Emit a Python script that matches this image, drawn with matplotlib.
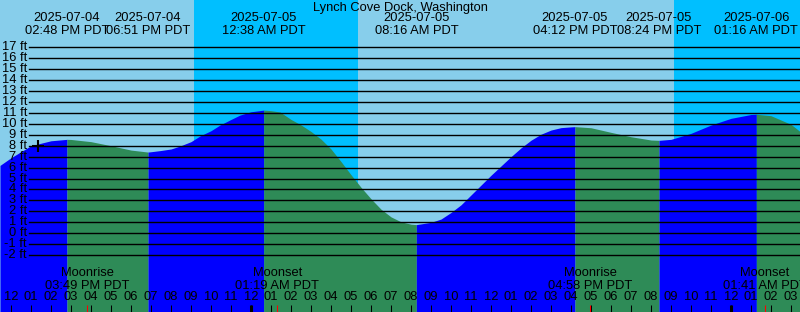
import matplotlib.pyplot as plt
import pandas as pd

plt.rcParams['font.family'] = ['Liberation Sans', 'DejaVu Sans']
plt.rcParams['font.size'] = 9.3

title = "Lynch Cove Dock, Washington"
start = pd.Timestamp("2025-07-04 12:00")

# tide readings (hours after start -> feet)
reading_hours = [-0.55, 0, 1, 2, 3, 4, 5, 6, 7, 7.45, 8, 8.45, 9, 9.45, 10, 10.45, 11, 11.45, 12,
                 13, 13.45, 14, 14.5, 15, 15.5, 16, 16.5, 17, 17.5, 18, 18.5, 19, 19.5, 20,
                 21, 21.5, 22, 22.5, 23, 23.5, 24, 24.5, 25, 25.5, 26, 26.5, 27, 27.5, 28,
                 29, 30, 31, 32, 33, 34, 35, 36, 37, 38, 39, 39.45]
reading_ft = [6.2, 6.9, 8.0, 8.45, 8.57, 8.37, 8.0, 7.6, 7.45, 7.55, 7.7, 7.97, 8.37, 8.89, 9.37,
              9.89, 10.4, 10.8, 11.1,
              11.2, 11.08, 10.4, 9.9, 9.3, 8.6, 7.7, 6.55, 5.35, 4.2, 3.15, 2.2, 1.5, 1.05, 0.83,
              1.0, 1.3, 1.9, 2.6, 3.5, 4.4, 5.3, 6.15, 7.0, 7.8, 8.5, 9.05, 9.43, 9.65, 9.72,
              9.64, 9.22, 8.82, 8.52, 8.58, 9.13, 9.89, 10.5, 10.85, 10.74, 9.95, 9.3]

# high / low tides
extreme_times = ["2025-07-04 14:48", "2025-07-04 18:51", "2025-07-05 00:38", "2025-07-05 08:16",
                 "2025-07-05 16:12", "2025-07-05 20:24", "2025-07-06 01:16"]
extreme_ft = [8.58, 7.42, 11.25, 0.79, 9.74, 8.49, 10.87]

# moon events
moon_events = ["Moonrise", "Moonset", "Moonrise", "Moonset"]
moon_times = ["2025-07-04 15:49", "2025-07-05 01:19", "2025-07-05 16:58", "2025-07-06 01:41"]

# night (sunset -> sunrise)
night_start = ["2025-07-04 21:09", "2025-07-05 21:09"]
night_end = ["2025-07-05 05:21", "2025-07-06 05:21"]

mark_time = "2025-07-04 13:20"
mark_ft = 8.0

hour_labels = ["12", "01", "02", "03", "04", "05", "06", "07", "08", "09", "10", "11",
               "12", "01", "02", "03", "04", "05", "06", "07", "08", "09", "10", "11",
               "12", "01", "02", "03", "04", "05", "06", "07", "08", "09", "10", "11",
               "12", "01", "02", "03"]
midnights = ["2025-07-05 00:00", "2025-07-06 00:00"]
ft_levels = list(range(-2, 18))

DAY = "#87CEEB"
NIGHT = "#00BFFF"
RISING = "#0000FF"
FALLING = "#2E8B57"


def to_hours(times):
    return list((pd.to_datetime(times) - start) / pd.Timedelta(hours=1))


ext_h = to_hours(extreme_times)
pts = sorted(zip(reading_hours + ext_h, reading_ft + extreme_ft))
t = [p[0] for p in pts]
h = [p[1] for p in pts]

W, H = 800, 312
fig = plt.figure(figsize=(8, 3.12), dpi=100)
ax = fig.add_axes([0, 0, 1, 1])
x0, x1 = -0.55, 39.45
ax.set_xlim(x0, x1)
ax.set_ylim(-7.19, 21.31)
ax.set_facecolor(DAY)
for s in ax.spines.values():
    s.set_visible(False)
ax.set_xticks([])
ax.set_yticks([])

for a, b in zip(to_hours(night_start), to_hours(night_end)):
    ax.axvspan(a, b, color=NIGHT, lw=0, zorder=0)

# tide fill: blue while rising, green while falling
bounds = [x0] + ext_h + [x1]
for i in range(len(bounds) - 1):
    seg = [(tt, hh) for tt, hh in zip(t, h) if bounds[i] <= tt <= bounds[i + 1]]
    color = RISING if i % 2 == 0 else FALLING
    ax.fill_between([p[0] for p in seg], [p[1] for p in seg], -8, color=color, lw=0, zorder=1)

ytr = ax.get_yaxis_transform()
for v in ft_levels:
    ax.axhline(v, xmin=29 / W, color="black", lw=1.0, zorder=2)
    ax.text(27 / W, v, f"{v} ft", transform=ytr, ha="right", va="center", zorder=3)

ax.plot(to_hours([mark_time]), [mark_ft], marker="+", ms=9, mew=1.5, color="black", zorder=3)

xtr = ax.get_xaxis_transform()
fig.text(0.5, 1 - 8 / H, title, ha="center", va="center")
for tm, xh in zip(pd.to_datetime(extreme_times), ext_h):
    ax.text(xh, 1 - 18 / H, tm.strftime("%Y-%m-%d"), transform=xtr, ha="center", va="center")
    ax.text(xh, 1 - 31 / H, tm.strftime("%I:%M %p") + " PDT", transform=xtr, ha="center", va="center")

moon_h = to_hours(moon_times)
for ev, tm, xh in zip(moon_events, pd.to_datetime(moon_times), moon_h):
    ax.text(xh, 1 - 273 / H, ev, transform=xtr, ha="center", va="center")
    ax.text(xh, 1 - 286 / H, tm.strftime("%I:%M %p") + " PDT", transform=xtr, ha="center", va="center")

hours = list(range(len(hour_labels)))
for xh, lab in zip(hours, hour_labels):
    ax.text(xh, 1 - 297.5 / H, lab, transform=xtr, ha="center", va="center")
tick_top = 7 / H
ax.vlines(hours, 0, tick_top, transform=xtr, color="black", lw=0.75, zorder=3)
ax.vlines(to_hours(midnights), 0, tick_top, transform=xtr, color="black", lw=2.2, zorder=3)
ax.vlines(moon_h, 0, tick_top, transform=xtr, color="red", lw=0.75, zorder=3)

fig.savefig("out.png", dpi=100)
